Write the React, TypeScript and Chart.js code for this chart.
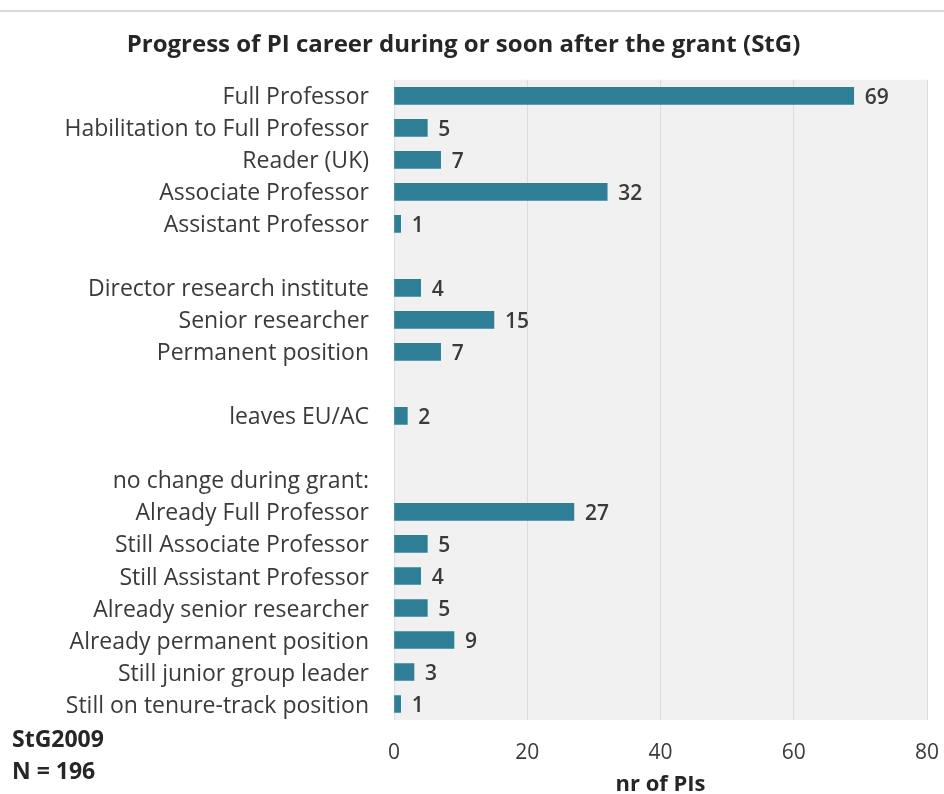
import React, { useEffect, useRef } from "react";
import { Chart, registerables } from "chart.js";

Chart.register(...registerables);

const chartTitle = "Progress of PI career during or soon after the grant (StG)";
const categories = [
  "Full Professor",
  "Habilitation to Full Professor",
  "Reader (UK)",
  "Associate Professor",
  "Assistant Professor",
  "",
  "Director research institute",
  "Senior researcher",
  "Permanent position",
  "",
  "leaves EU/AC",
  "",
  "no change during grant:",
  "Already Full Professor",
  "Still Associate Professor",
  "Still Assistant Professor",
  "Already senior researcher",
  "Already permanent position",
  "Still junior group leader",
  "Still on tenure-track position",
];
const values: (number | null)[] = [69, 5, 7, 32, 1, null, 4, 15, 7, null, 2, null, null, 27, 5, 4, 5, 9, 3, 1];
const xMin = 0;
const xMax = 80;
const xStep = 20;
const axisTitle = "nr of PIs";
const noteLines = ["StG2009", "N = 196"];

const FONT = '"Open Sans", sans-serif';
const TEXT = "#3a3a3a";
const DARK = "#262626";
const BAR = "#2e7f96";

export default function App() {
  const ref = useRef<HTMLCanvasElement | null>(null);

  useEffect(() => {
    document.body.style.margin = "0";
    document.body.style.overflow = "hidden";
    const canvas = ref.current;
    if (!canvas) return;

    const decor = {
      id: "decor",
      beforeDraw(chart: any) {
        const { ctx, chartArea } = chart;
        ctx.save();
        ctx.fillStyle = "#ffffff";
        ctx.fillRect(0, 0, chart.width, chart.height);
        ctx.fillStyle = "#d9d9d9";
        ctx.fillRect(0, 10, chart.width, 2);
        ctx.fillStyle = "#f1f1f1";
        ctx.fillRect(chartArea.left, chartArea.top, chartArea.right - chartArea.left, chartArea.bottom - chartArea.top);
        ctx.restore();
      },
      afterDatasetsDraw(chart: any) {
        const { ctx } = chart;
        const meta = chart.getDatasetMeta(0);
        ctx.save();
        ctx.font = `600 21px ${FONT}`;
        ctx.fillStyle = TEXT;
        ctx.textAlign = "left";
        ctx.textBaseline = "middle";
        meta.data.forEach((bar: any, i: number) => {
          const v = values[i];
          if (v == null) return;
          ctx.fillText(String(v), bar.x + 11, bar.y + 2);
        });
        ctx.font = `bold 23px ${FONT}`;
        ctx.fillStyle = DARK;
        noteLines.forEach((t, i) => ctx.fillText(t, 12, 740 + i * 32));
        ctx.restore();
      },
    };

    const chart = new Chart(canvas, {
      type: "bar",
      data: {
        labels: categories,
        datasets: [
          {
            data: values as any,
            backgroundColor: BAR,
            barThickness: 17,
          },
        ],
      },
      options: {
        indexAxis: "y",
        animation: false,
        responsive: false,
        maintainAspectRatio: false,
        layout: { padding: { left: 0, right: 17, top: 0, bottom: 0 } },
        plugins: {
          legend: { display: false },
          tooltip: { enabled: false },
          title: {
            display: true,
            text: chartTitle,
            color: DARK,
            font: { family: FONT, size: 24, weight: "bold" },
            padding: { top: 31, bottom: 20 },
          },
        },
        scales: {
          x: {
            min: xMin,
            max: xMax,
            ticks: {
              stepSize: xStep,
              color: TEXT,
              font: { family: FONT, size: 21 },
              padding: 20,
            },
            grid: { color: "#dcdcdc", drawTicks: false },
            border: { display: false },
            title: {
              display: true,
              text: axisTitle,
              color: DARK,
              font: { family: FONT, size: 22, weight: "bold" },
              padding: { top: 0, bottom: -4 },
            },
            afterFit(scale: any) {
              scale.height = 74;
              scale.paddingLeft = 0;
              scale.paddingRight = 0;
            },
          },
          y: {
            ticks: {
              color: TEXT,
              font: { family: FONT, size: 23 },
              padding: 25,
              labelOffset: 2,
              autoSkip: false,
            },
            grid: { display: false, drawTicks: false },
            border: { display: false },
            afterFit(scale: any) {
              scale.width = 394;
            },
          },
        },
      },
      plugins: [decor],
    });
    return () => chart.destroy();
  }, []);

  return (
    <div style={{ width: 944, height: 794, overflow: "hidden" }}>
      <canvas ref={ref} width={944} height={794} style={{ display: "block" }} />
    </div>
  );
}
